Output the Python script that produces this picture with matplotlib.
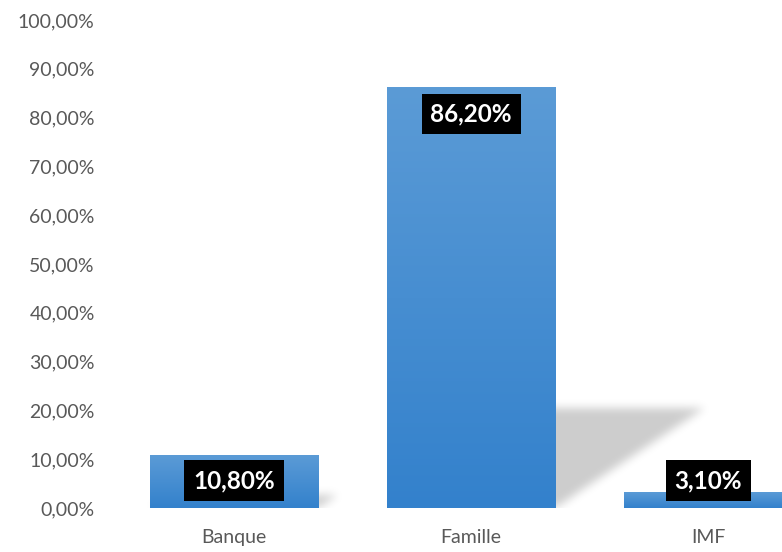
import numpy as np
import matplotlib
matplotlib.use('Agg')
import matplotlib.pyplot as plt
from matplotlib.path import Path
from matplotlib.colors import LinearSegmentedColormap
from matplotlib.ticker import FuncFormatter

categories = ['Banque', 'Famille', 'IMF']
values = [10.80, 86.20, 3.10]
yticks = [0, 10, 20, 30, 40, 50, 60, 70, 80, 90, 100]

FIG_W, FIG_H = 782, 552
fig = plt.figure(figsize=(FIG_W / 100, FIG_H / 100), dpi=100)
ax_left, ax_right, ax_bottom, ax_top = 115.5, 826.5, 508, 20
ax = fig.add_axes([ax_left / FIG_W, 1 - ax_bottom / FIG_H,
                   (ax_right - ax_left) / FIG_W, (ax_bottom - ax_top) / FIG_H])

XMIN, XMAX, YMIN, YMAX = -0.5, len(categories) - 0.5, 0, 100
bar_w = 0.71
x = np.arange(len(categories))

# ---- perspective shadows (blurred raster) ----
nx, ny = int(ax_right - ax_left), int(ax_bottom - ax_top)
gx = np.linspace(XMIN, XMAX, nx)
gy = np.linspace(YMIN, YMAX, ny)
GX, GY = np.meshgrid(gx, gy)
pts = np.column_stack([GX.ravel(), GY.ravel()])
mask = np.zeros(GX.shape)
k_h = 0.238      # shadow height ratio
k_s = 0.00734    # horizontal skew per unit of value
for xi, v in zip(x, values):
    h = k_h * v
    s = k_s * v
    poly = Path([(xi - bar_w / 2, 0), (xi + bar_w / 2, 0),
                 (xi + bar_w / 2 + s, h), (xi - bar_w / 2 + s, h), (xi - bar_w / 2, 0)])
    mask = np.maximum(mask, poly.contains_points(pts).reshape(GX.shape).astype(float))

def blur(a, sigma):
    r = int(3 * sigma)
    k = np.exp(-0.5 * (np.arange(-r, r + 1) / sigma) ** 2)
    k /= k.sum()
    a = np.apply_along_axis(lambda m: np.convolve(m, k, mode='same'), 1, a)
    a = np.apply_along_axis(lambda m: np.convolve(m, k, mode='same'), 0, a)
    return a

mask = blur(mask, 4.5)
rgba = np.zeros(mask.shape + (4,))
rgba[..., 3] = mask * 0.2
ax.imshow(rgba, extent=(XMIN, XMAX, YMIN, YMAX), origin='lower',
          aspect='auto', zorder=1, interpolation='bilinear')

# ---- gradient bars ----
cmap = LinearSegmentedColormap.from_list('bar', ['#3381cc', '#5b9bd6'])
grad = np.linspace(0, 1, 256).reshape(-1, 1)
for xi, v in zip(x, values):
    ax.imshow(grad, cmap=cmap, extent=(xi - bar_w / 2, xi + bar_w / 2, 0, v),
              origin='lower', aspect='auto', zorder=2, interpolation='bilinear')

# ---- data labels ----
def fmt(v):
    return f"{v:.2f}".replace('.', ',') + '%'

for xi, v in zip(x, values):
    yc = max(v - 5.5, 5.6)
    ax.text(xi, yc, fmt(v), ha='center', va='center', color='white',
            fontsize=17.5, fontweight='bold', family='Lato', zorder=4,
            bbox=dict(boxstyle='square,pad=0.36', fc='black', ec='none'))

ax.set_xlim(XMIN, XMAX)
ax.set_ylim(YMIN, YMAX)
ax.set_yticks(yticks)
ax.yaxis.set_major_formatter(FuncFormatter(lambda v, p: fmt(v)))
ax.set_xticks(x)
ax.set_xticklabels(categories)
for sp in ax.spines.values():
    sp.set_visible(False)
ax.tick_params(axis='y', length=0, pad=15, labelsize=14, labelcolor='#595959')
ax.tick_params(axis='x', length=0, pad=15, labelsize=14, labelcolor='#595959')
for lab in ax.get_xticklabels() + ax.get_yticklabels():
    lab.set_family('Lato')

fig.savefig('out.png', dpi=100)
